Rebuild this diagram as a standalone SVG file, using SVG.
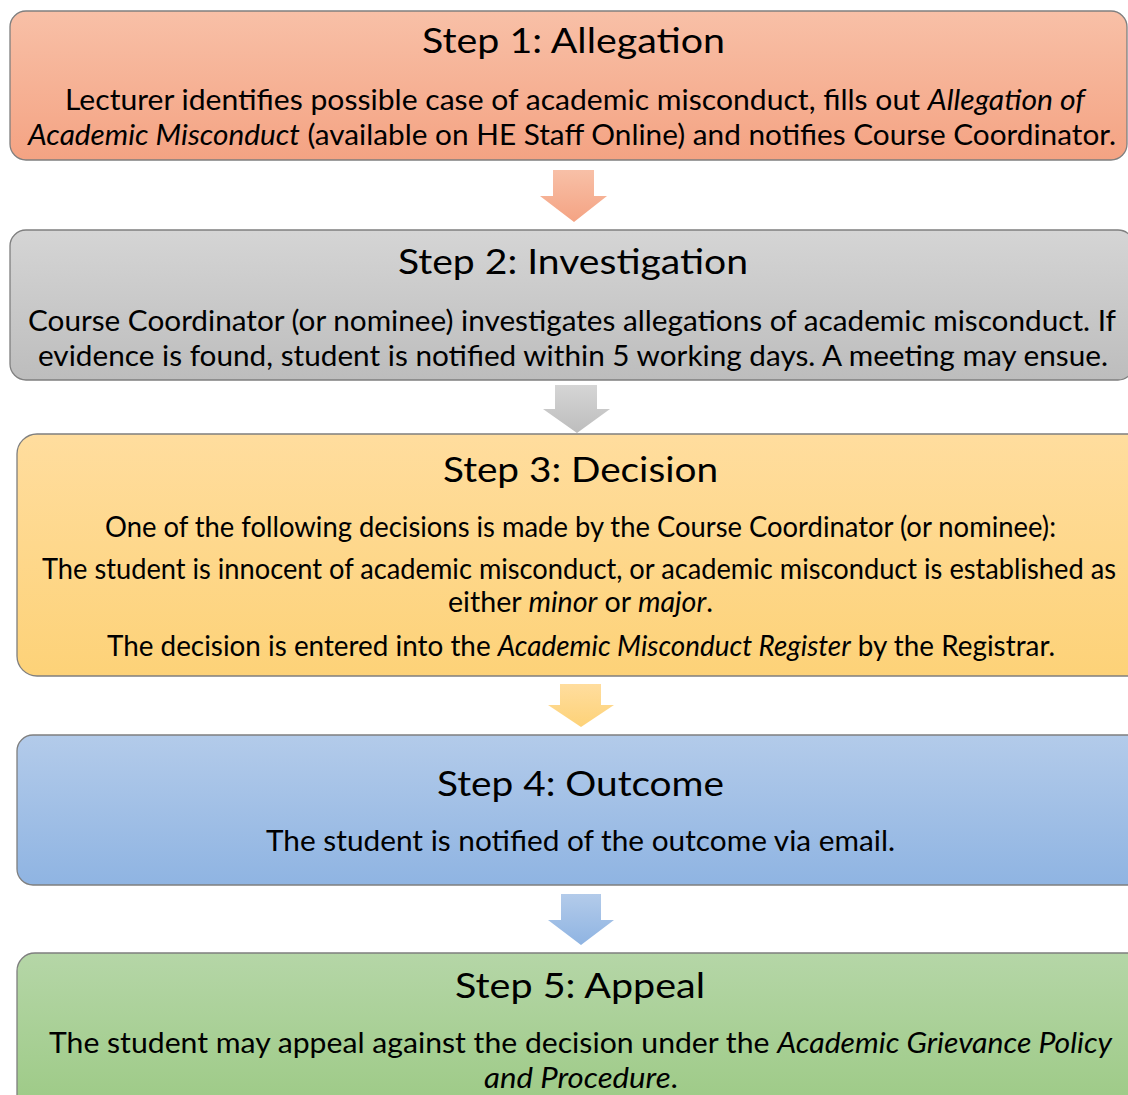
<svg xmlns="http://www.w3.org/2000/svg" width="1128" height="1095" viewBox="0 0 1128 1095">
<style>
text{font-family:Lato,"Open Sans","Liberation Sans",sans-serif;fill:#000}
.t{font-size:35px}
.b{font-size:28px}
.i{font-style:italic}
.box{stroke:#7f7f7f;stroke-width:1.3}
</style>
<defs>
<linearGradient id="g1" x1="0" y1="0" x2="0" y2="1"><stop offset="0" stop-color="#f8c0a7"/><stop offset="1" stop-color="#f4a383"/></linearGradient>
<linearGradient id="g2" x1="0" y1="0" x2="0" y2="1"><stop offset="0" stop-color="#d5d5d5"/><stop offset="1" stop-color="#bdbdbd"/></linearGradient>
<linearGradient id="g3" x1="0" y1="0" x2="0" y2="1"><stop offset="0" stop-color="#ffdd9e"/><stop offset="1" stop-color="#fdd278"/></linearGradient>
<linearGradient id="g4" x1="0" y1="0" x2="0" y2="1"><stop offset="0" stop-color="#b3cbea"/><stop offset="1" stop-color="#8fb4e2"/></linearGradient>
<linearGradient id="g5" x1="0" y1="0" x2="0" y2="1"><stop offset="0" stop-color="#b5d6a7"/><stop offset="1" stop-color="#9bc983"/></linearGradient>
</defs>
<rect width="1128" height="1095" fill="#fff"/>

<g id="connectors">
<polygon id="a1" points="553,170 594,170 594,196 607,196 574,222 540,196 553,196" fill="url(#g1)"/>
<polygon id="a2" points="555,385 597,385 597,409 610,409 577,433 543,409 555,409" fill="url(#g2)"/>
<polygon id="a3" points="560,684 601,684 601,705 614,705 581,727 548,705 560,705" fill="url(#g3)"/>
<polygon id="a4" points="561,894 601,894 601,920 614,920 581,945 548,920 561,920" fill="url(#g4)"/>
</g>

<g id="step1">
<rect class="box" x="10" y="11" width="1117" height="149" rx="16" fill="url(#g1)" stroke="#8e7a70"/>
<text class="t" x="422" y="53" textLength="303" lengthAdjust="spacingAndGlyphs">Step 1: Allegation</text>
<text class="b" x="65" y="110" textLength="1020" lengthAdjust="spacingAndGlyphs">Lecturer identifies possible case of academic misconduct, fills out <tspan class="i">Allegation of</tspan></text>
<text class="b" x="28" y="145" textLength="1088" lengthAdjust="spacingAndGlyphs"><tspan class="i">Academic Misconduct</tspan> (available on HE Staff Online) and notifies Course Coordinator.</text>
</g>

<g id="step2">
<rect class="box" x="10" y="230" width="1124" height="150" rx="16" fill="url(#g2)"/>
<text class="t" x="398" y="274" textLength="350" lengthAdjust="spacingAndGlyphs">Step 2: Investigation</text>
<text class="b" x="28" y="331" textLength="1088" lengthAdjust="spacingAndGlyphs">Course Coordinator (or nominee) investigates allegations of academic misconduct. If</text>
<text class="b" x="38" y="366" textLength="1070" lengthAdjust="spacingAndGlyphs">evidence is found, student is notified within 5 working days. A meeting may ensue.</text>
</g>

<g id="step3">
<rect class="box" x="17" y="434" width="1130" height="242" rx="20" fill="url(#g3)"/>
<text class="t" x="443" y="482" textLength="275" lengthAdjust="spacingAndGlyphs">Step 3: Decision</text>
<text class="b" x="105" y="537" textLength="951" lengthAdjust="spacingAndGlyphs">One of the following decisions is made by the Course Coordinator (or nominee):</text>
<text class="b" x="42" y="579" textLength="1074" lengthAdjust="spacingAndGlyphs">The student is innocent of academic misconduct, or academic misconduct is established as</text>
<text class="b" x="448" y="612" textLength="265" lengthAdjust="spacingAndGlyphs">either <tspan class="i">minor</tspan> or <tspan class="i">major</tspan>.</text>
<text class="b" x="107" y="656" textLength="948" lengthAdjust="spacingAndGlyphs">The decision is entered into the <tspan class="i">Academic Misconduct Register</tspan> by the Registrar.</text>
</g>

<g id="step4">
<rect class="box" x="17" y="735" width="1130" height="150" rx="16" fill="url(#g4)"/>
<text class="t" x="437" y="796" textLength="287" lengthAdjust="spacingAndGlyphs">Step 4: Outcome</text>
<text class="b" x="266" y="851" textLength="629" lengthAdjust="spacingAndGlyphs">The student is notified of the outcome via email.</text>
</g>

<g id="step5">
<rect class="box" x="17" y="953" width="1130" height="170" rx="18" fill="url(#g5)"/>
<text class="t" x="455" y="998" textLength="250" lengthAdjust="spacingAndGlyphs">Step 5: Appeal</text>
<text class="b" x="49" y="1053" textLength="1063" lengthAdjust="spacingAndGlyphs">The student may appeal against the decision under the <tspan class="i">Academic Grievance Policy</tspan></text>
<text class="b" x="484" y="1088" textLength="194" lengthAdjust="spacingAndGlyphs"><tspan class="i">and Procedure</tspan>.</text>
</g>
</svg>
